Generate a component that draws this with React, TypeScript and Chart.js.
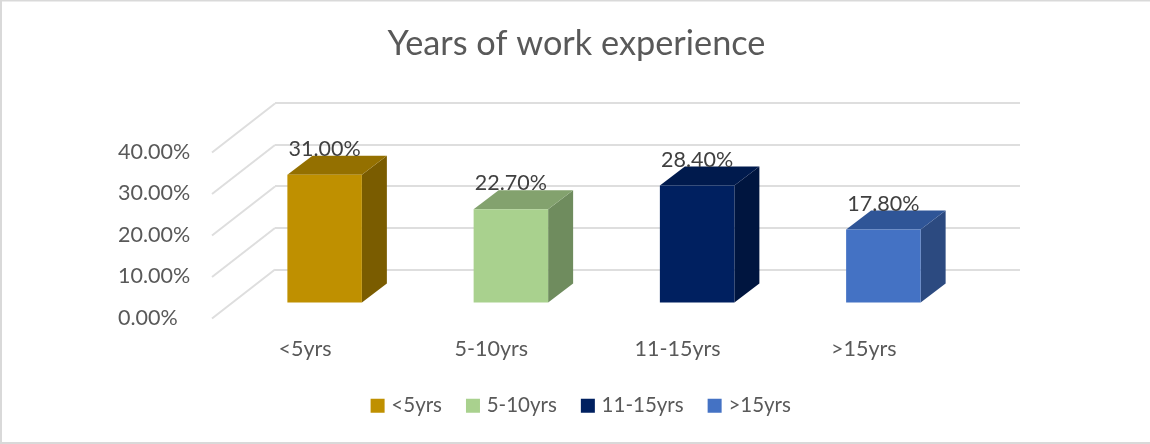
import React, { useEffect, useRef } from "react";
import { Chart, registerables } from "chart.js";

Chart.register(...registerables);

const titleText = "Years of work experience";
const categories = ["<5yrs", "5-10yrs", "11-15yrs", ">15yrs"];
const shares = [31.0, 22.7, 28.4, 17.8];
const frontColors = ["#BF9000", "#A9D18E", "#002060", "#4472C4"];
const topColors = ["#947000", "#83A26E", "#001A4D", "#2F5597"];
const sideColors = ["#7A5C00", "#6F8C5E", "#00153F", "#2C4A80"];

const FLOOR_DX = -63;
const FLOOR_DY = 49;
const BAR_DX = -43.5;
const BAR_DY = 34;
const DEPTH_X = 25;
const DEPTH_Y = -19;

const box3d = {
  id: "box3d",
  afterLayout(chart: any) {
    chart.titleBlock.left += 1.5;
    chart.titleBlock.right += 1.5;
    chart.legend.left += 7.5;
    chart.legend.right += 7.5;
    chart.legend.top -= 2.5;
    chart.legend.bottom -= 2.5;
  },
  beforeDraw(chart: any) {
    const { ctx, width, height } = chart;
    ctx.save();
    ctx.fillStyle = "#D9D9D9";
    ctx.fillRect(0, 0, width, 1.5);
    ctx.fillRect(0, 0, 2, height);
    ctx.fillRect(0, height - 2, width, 2);
    ctx.restore();
  },
  beforeDatasetsDraw(chart: any) {
    const { ctx, scales } = chart;
    ctx.save();
    ctx.strokeStyle = "#DEDEDE";
    ctx.lineWidth = 2;
    const left = chart.chartArea.left;
    scales.y.ticks.forEach((t: any) => {
      const y = scales.y.getPixelForValue(t.value);
      ctx.beginPath();
      ctx.moveTo(left, y);
      ctx.lineTo(left + FLOOR_DX, y + FLOOR_DY);
      ctx.stroke();
    });
    ctx.restore();
    ctx.save();
    ctx.translate(BAR_DX, BAR_DY);
    chart.getDatasetMeta(0).data.forEach((bar: any, i: number) => {
      const l = bar.x - bar.width / 2;
      const r = bar.x + bar.width / 2;
      ctx.fillStyle = sideColors[i];
      ctx.beginPath();
      ctx.moveTo(r, bar.y);
      ctx.lineTo(r + DEPTH_X, bar.y + DEPTH_Y);
      ctx.lineTo(r + DEPTH_X, bar.base + DEPTH_Y);
      ctx.lineTo(r, bar.base);
      ctx.closePath();
      ctx.fill();
      ctx.fillStyle = topColors[i];
      ctx.beginPath();
      ctx.moveTo(l, bar.y);
      ctx.lineTo(l + DEPTH_X, bar.y + DEPTH_Y);
      ctx.lineTo(r + DEPTH_X, bar.y + DEPTH_Y);
      ctx.lineTo(r, bar.y);
      ctx.closePath();
      ctx.fill();
    });
  },
  afterDatasetsDraw(chart: any) {
    const { ctx } = chart;
    ctx.fillStyle = "#404040";
    ctx.font = "21.5px Lato";
    ctx.textAlign = "center";
    ctx.textBaseline = "middle";
    chart.getDatasetMeta(0).data.forEach((bar: any, i: number) => {
      ctx.fillText(shares[i].toFixed(2) + "%", bar.x, bar.y - 26);
    });
    ctx.restore();
  },
};

export default function App() {
  const ref = useRef<HTMLCanvasElement>(null);
  useEffect(() => {
    document.body.style.margin = "0";
    const chart = new Chart(ref.current!, {
      type: "bar",
      data: {
        labels: categories,
        datasets: [
          {
            data: shares,
            backgroundColor: frontColors,
            barPercentage: 0.4,
            categoryPercentage: 1,
            clip: false,
          } as any,
        ],
      },
      options: {
        animation: false,
        responsive: false,
        layout: { padding: { left: 130, right: 130, top: 0, bottom: 15.5 } },
        plugins: {
          tooltip: { enabled: false },
          title: {
            display: true,
            text: titleText,
            color: "#595959",
            font: { family: "Lato", size: 34.3, weight: "normal", lineHeight: 1.2 },
            padding: { top: 23, bottom: 39.3 },
          },
          legend: {
            display: true,
            position: "bottom",
            labels: {
              boxWidth: 7,
              boxHeight: 7,
              padding: 27.5,
              color: "#595959",
              font: { family: "Lato", size: 20.5 },
              generateLabels: () =>
                categories.map((c, i) => ({
                  text: c,
                  fillStyle: frontColors[i],
                  strokeStyle: frontColors[i],
                  lineWidth: 7,
                  fontColor: "#595959",
                  index: i,
                })),
            },
          },
        },
        scales: {
          x: {
            grid: { display: false },
            border: { display: false },
            afterFit(s: any) {
              s.height = 101;
            },
            ticks: {
              color: "#595959",
              font: { family: "Lato", size: 21.5 },
              padding: 59,
              labelOffset: FLOOR_DX,
              maxRotation: 0,
              autoSkip: false,
            },
          },
          y: {
            min: 0,
            max: 40,
            grid: { color: "#DEDEDE", lineWidth: 2, drawTicks: false },
            border: { display: false },
            afterFit(s: any) {
              s.width = 145;
            },
            ticks: {
              stepSize: 10,
              color: "#595959",
              font: { family: "Lato", size: 21.5 },
              mirror: true,
              padding: -157,
              labelOffset: 48.5,
              callback: (v: any) => Number(v).toFixed(2) + "%",
            },
          },
        },
      },
      plugins: [box3d],
    } as any);
    return () => chart.destroy();
  }, []);
  return <canvas ref={ref} width={1150} height={444} style={{ display: "block" }} />;
}
